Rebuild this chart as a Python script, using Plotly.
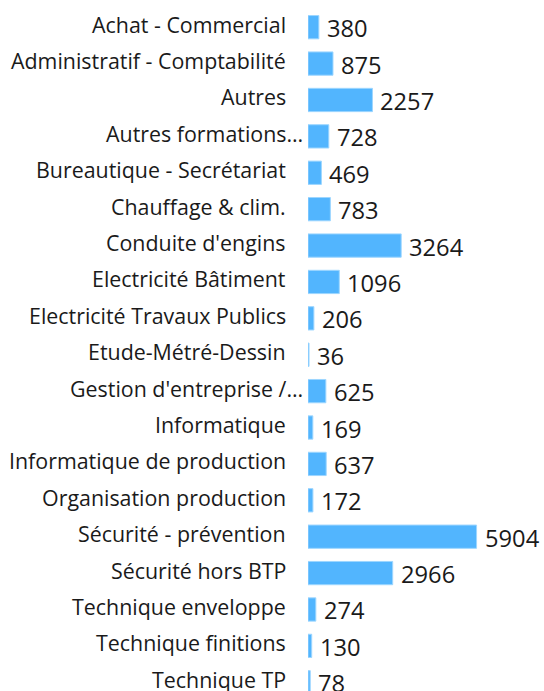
import plotly.graph_objects as go

categories = [
    "Achat - Commercial", "Administratif - Comptabilité", "Autres", "Autres formations…",
    "Bureautique - Secrétariat", "Chauffage & clim.", "Conduite d'engins",
    "Electricité Bâtiment", "Electricité Travaux Publics", "Etude-Métré-Dessin",
    "Gestion d'entreprise /…", "Informatique", "Informatique de production",
    "Organisation production", "Sécurité - prévention", "Sécurité hors BTP",
    "Technique enveloppe", "Technique finitions", "Technique TP",
]
values = [380, 875, 2257, 728, 469, 783, 3264, 1096, 206, 36, 625, 169, 637, 172,
          5904, 2966, 274, 130, 78]

BAR_COLOR = "#52b5fe"
BAR_EDGE = "#9dd6ff"
FONT = "Open Sans"
TEXT_COLOR = "#1a1a1a"

fig = go.Figure()
fig.add_trace(go.Bar(
    x=values, y=categories, orientation="h",
    marker=dict(color=BAR_COLOR, line=dict(color=BAR_EDGE, width=1)),
    width=0.64,
    hoverinfo="skip",
))

# value labels
for c, v in zip(categories, values):
    fig.add_annotation(
        x=v, y=c, xref="x", yref="y", text=str(v), showarrow=False,
        xanchor="left", yanchor="middle", xshift=6, yshift=-1,
        font=dict(family=FONT, size=23.7, color=TEXT_COLOR),
    )

# category labels (truncated labels overflow to the right, as in the original)
for c in categories:
    truncated = c.endswith("…")
    fig.add_annotation(
        x=0, y=c, xref="paper", yref="y", text=c, showarrow=False,
        xanchor="right", yanchor="middle",
        xshift=-20 + (17 if truncated else 0), yshift=3,
        font=dict(family=FONT, size=21.4, color=TEXT_COLOR),
    )

fig.update_layout(
    width=544, height=691,
    margin=dict(l=308, r=0, t=9, b=0),
    paper_bgcolor="white", plot_bgcolor="white",
    showlegend=False,
    bargap=0.36,
)
fig.update_xaxes(visible=False, range=[0, max(values) * 1.4])
fig.update_yaxes(
    autorange=False, range=[len(categories) - 0.76, -0.5],
    showgrid=False, zeroline=False, showline=False, ticks="",
    showticklabels=False,
)

fig.write_html(
    "out.html",
    config={"displayModeBar": False, "staticPlot": True},
    post_script="document.body.style.margin='0';document.body.style.overflow='hidden';",
)
